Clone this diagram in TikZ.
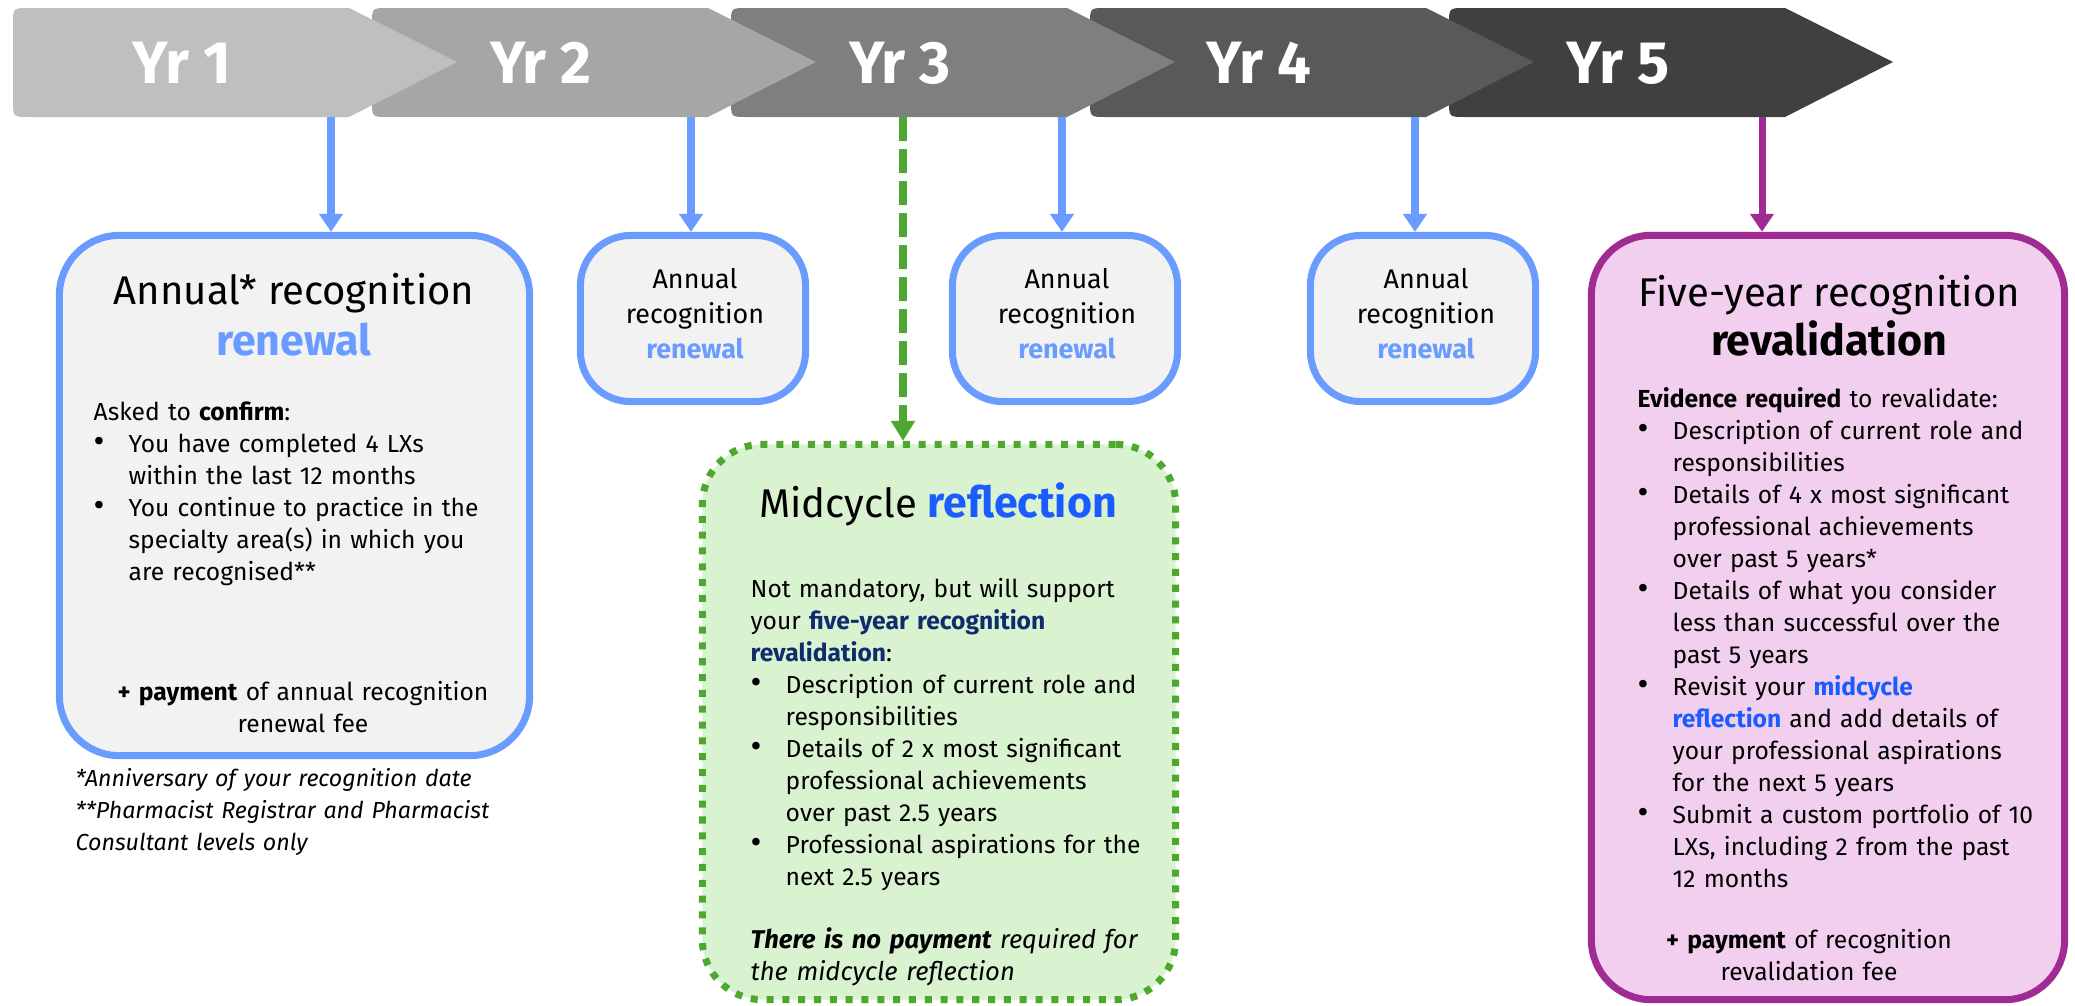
\documentclass[tikz,border=0pt]{standalone}
\usepackage{fontspec}
\setmainfont{Fira Sans}
\usetikzlibrary{arrows.meta}

\definecolor{yrone}{HTML}{BFBFBF}
\definecolor{yrtwo}{HTML}{A6A6A6}
\definecolor{yrthree}{HTML}{7F7F7F}
\definecolor{yrfour}{HTML}{595959}
\definecolor{yrfive}{HTML}{404040}
\definecolor{renewblue}{HTML}{6A9BFF}
\definecolor{boxgrey}{HTML}{F2F2F2}
\definecolor{midgreen}{HTML}{4EA72E}
\definecolor{midfill}{HTML}{D9F2D0}
\definecolor{revpurple}{HTML}{A02B93}
\definecolor{revfill}{HTML}{F2CEEF}
\definecolor{reflectblue}{HTML}{1A5CFF}
\definecolor{navy}{HTML}{0F2D6E}

\newcommand{\bodyfont}{\fontsize{7}{9.1}\selectfont}
\newcommand{\bodybul}{\makebox[0.35cm][l]{\fontsize{9.5}{9.1}\selectfont\textbullet}}
\newcommand{\bodyind}{\hspace*{0.35cm}}
\newcommand{\titlebf}[1]{{\fontsize{12.2}{13}\selectfont\bfseries #1}}

\tikzset{
	yrlabel/.style={text=white, font=\fontsize{17}{18}\selectfont\bfseries, inner sep=0pt},
	annbox/.style={draw=renewblue, fill=boxgrey, line width=2pt, rounded corners=0.5cm},
	midbox/.style={draw=midgreen, fill=midfill, line width=2pt, dash pattern=on 2pt off 2.5pt, rounded corners=0.6cm},
	revbox/.style={draw=revpurple, fill=revfill, line width=2pt, rounded corners=0.6cm},
	bluearrow/.style={draw=renewblue, line width=2pt, -{Triangle[width=0.23cm, length=0.18cm]}},
	greenarrow/.style={draw=midgreen, line width=2pt, dash pattern=on 0.24cm off 0.08cm, -{Triangle[width=0.23cm, length=0.2cm]}},
	purplearrow/.style={draw=revpurple, line width=2pt, -{Triangle[width=0.23cm, length=0.18cm]}},
	titletext/.style={font=\fontsize{11.4}{13}\selectfont, anchor=base, inner sep=0pt},
	smalltext/.style={font=\fontsize{7.65}{10}\selectfont, text width=2.2cm, align=center, anchor=base, inner sep=0pt},
	bodytext/.style={font=\bodyfont, text width=4.6cm, align=left, anchor=base west, inner sep=0pt},
	paytext/.style={font=\bodyfont, text width=4.6cm, align=center, anchor=base, inner sep=0pt}
}

\begin{document}
\begin{tikzpicture}[x=0.01cm, y=-0.01cm]
	\useasboundingbox (0,0) rectangle (2075,1006);

	% year chevrons, back to front
	\foreach \i/\col in {5/yrfive, 4/yrfour, 3/yrthree, 2/yrtwo, 1/yrone}{
		\pgfmathsetmacro{\lx}{13+(\i-1)*359}
		\fill[\col] (\lx+444,62) -- (\lx+336,8) -- (\lx+16,8) .. controls (\lx,8) .. (\lx,24)
			-- (\lx,101) .. controls (\lx,117) .. (\lx+16,117) -- (\lx+336,117) -- cycle;
		\node[yrlabel, anchor=base] (yr\i) at (\lx+169,83) {Yr \i};
	}

	\coordinate (s1) at (331,117);
	\coordinate (s2) at (691,117);
	\coordinate (s3) at (903,117);
	\coordinate (s4) at (1062,117);
	\coordinate (s5) at (1415,117);
	\coordinate (s6) at (1762,117);

	% boxes
	\node[annbox, rounded corners=0.6cm, minimum width=4.70cm, minimum height=5.20cm] (renew1) at (294.5,495.5) {};
	\node[annbox, minimum width=2.25cm, minimum height=1.66cm] (renew2) at (693,318.5) {};
	\node[annbox, minimum width=2.25cm, minimum height=1.66cm] (renew4) at (1065,318.5) {};
	\node[annbox, minimum width=2.25cm, minimum height=1.66cm] (renew5) at (1423,318.5) {};
	\node[midbox, minimum width=4.73cm, minimum height=5.55cm] (mid) at (939,722) {};
	\node[revbox, minimum width=4.73cm, minimum height=7.64cm] (reval) at (1828,617.5) {};

	\draw[bluearrow] (s1) -- (s1 |- renew1.north);
	\draw[bluearrow] (s2) -- (s2 |- renew2.north);
	\draw[greenarrow] (s3) -- (s3 |- mid.north);
	\draw[bluearrow] (s4) -- (s4 |- renew4.north);
	\draw[bluearrow] (s5) -- (s5 |- renew5.north);
	\draw[purplearrow] (s6) -- (s6 |- reval.north);

	% annual renewal (year 1)
	\node[titletext] (t1) at (294,304) {Annual* recognition};
	\node[titletext, text=renewblue] (r1) at (294,355) {\titlebf{renewal}};
	\node[bodytext] (b1) at (93,420) {Asked to \textbf{confirm}:\\
		\bodybul You have completed 4 LXs\\
		\bodyind within the last 12 months\\
		\bodybul You continue to practice in the\\
		\bodyind specialty area(s) in which you\\
		\bodyind are recognised**};
	\node[paytext] (p1) at (303,700) {\textbf{+ payment} of annual recognition\\ renewal fee};
	\node[bodytext, font=\fontsize{6.6}{9.1}\selectfont\itshape] (notes) at (75,786) {*Anniversary of your recognition date\\{}
		**Pharmacist Registrar and Pharmacist\\
		Consultant levels only};

	% annual renewal (years 2, 4, 5)
	\node[smalltext] (a2) at (695,288) {Annual\\ recognition\\ \textbf{\color{renewblue}renewal}};
	\node[smalltext] (a4) at (1067,288) {Annual\\ recognition\\ \textbf{\color{renewblue}renewal}};
	\node[smalltext] (a5) at (1426,288) {Annual\\ recognition\\ \textbf{\color{renewblue}renewal}};

	% midcycle reflection
	\node[titletext] (t3) at (938,517) {Midcycle \titlebf{\color{reflectblue}reflection}};
	\node[bodytext] (b3) at (750,597) {Not mandatory, but will support\\
		your \textbf{\color{navy}five-year recognition}\\
		\textbf{\color{navy}revalidation}:\\
		\bodybul Description of current role and\\
		\bodyind responsibilities\\
		\bodybul Details of 2 x most significant\\
		\bodyind professional achievements\\
		\bodyind over past 2.5 years\\
		\bodybul Professional aspirations for the\\
		\bodyind next 2.5 years};
	\node[bodytext, font=\fontsize{7.3}{9.1}\selectfont\itshape] (p3) at (750,948) {\textbf{There is no payment} required for\\
		the midcycle reflection};

	% five-year revalidation
	\node[titletext] (t6) at (1829,306) {Five-year recognition};
	\node[titletext] (r6) at (1829,355) {\titlebf{revalidation}};
	\node[bodytext] (b6) at (1637,407) {\textbf{Evidence required} to revalidate:\\
		\bodybul Description of current role and\\
		\bodyind responsibilities\\
		\bodybul Details of 4 x most significant\\
		\bodyind professional achievements\\
		\bodyind over past 5 years*\\
		\bodybul Details of what you consider\\
		\bodyind less than successful over the\\
		\bodyind past 5 years\\
		\bodybul Revisit your \textbf{\color{reflectblue}midcycle}\\
		\bodyind \textbf{\color{reflectblue}reflection} and add details of\\
		\bodyind your professional aspirations\\
		\bodyind for the next 5 years\\
		\bodybul Submit a custom portfolio of 10\\
		\bodyind LXs, including 2 from the past\\
		\bodyind 12 months};
	\node[paytext] (p6) at (1809,948) {\textbf{+ payment} of recognition\\ revalidation fee};
\end{tikzpicture}
\end{document}
